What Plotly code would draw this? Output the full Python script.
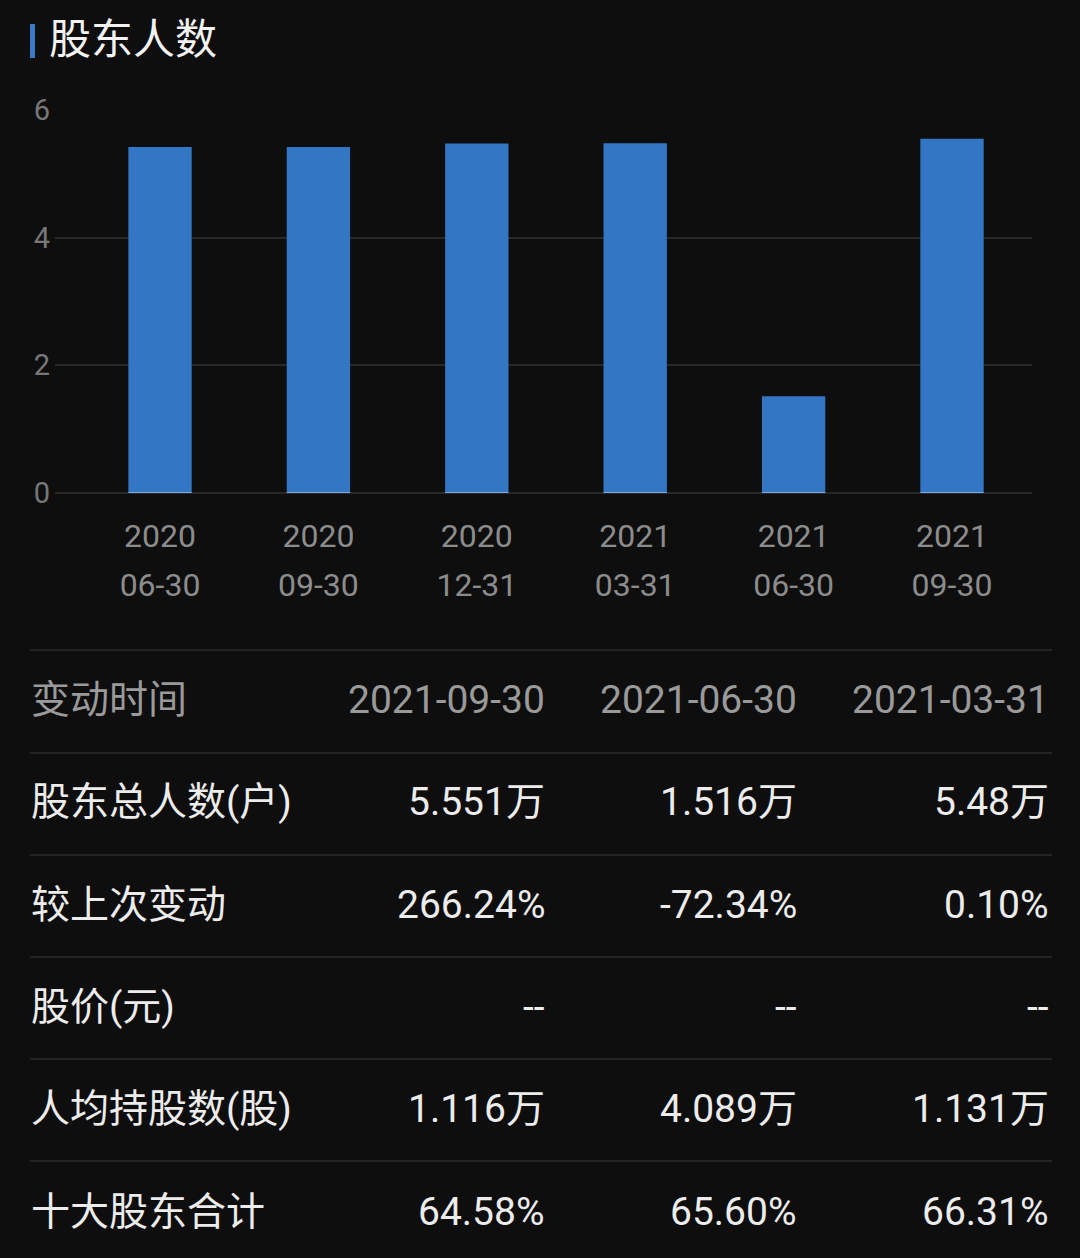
import plotly.graph_objects as go

W, H = 1080, 1258

# ---- data ----
report_years = ["2020", "2020", "2020", "2021", "2021", "2021"]
report_days = ["06-30", "09-30", "12-31", "03-31", "06-30", "09-30"]
holders_wan = [5.42, 5.42, 5.475, 5.48, 1.516, 5.551]
y_ticks = [0, 2, 4, 6]

table_header_label = "变动时间"
table_dates = ["2021-09-30", "2021-06-30", "2021-03-31"]
row_labels = ["股东总人数(户)", "较上次变动", "股价(元)", "人均持股数(股)", "十大股东合计"]
row_values = [
    ["5.551万", "1.516万", "5.48万"],
    ["266.24%", "-72.34%", "0.10%"],
    ["--", "--", "--"],
    ["1.116万", "4.089万", "1.131万"],
    ["64.58%", "65.60%", "66.31%"],
]

BG = "#0e0e0e"
BAR = "#3276c4"
GRID = "#282828"
FONT = "Roboto, 'Noto Sans CJK SC', sans-serif"

cats = [f"{y}-{d}" for y, d in zip(report_years, report_days)]

fig = go.Figure()
fig.add_trace(go.Bar(x=cats, y=holders_wan, marker=dict(color=BAR, line=dict(width=0)),
                     width=0.4, xaxis="x", yaxis="y", hoverinfo="skip"))
# invisible trace to register second x axis for the day labels
fig.add_trace(go.Bar(x=cats, y=[0] * len(cats), xaxis="x2", yaxis="y", showlegend=False,
                     hoverinfo="skip", marker=dict(color="rgba(0,0,0,0)")))

def px_x(p):
    return p / W

def px_y(p):
    return 1 - p / H

x_dom = [px_x(55), px_x(1032)]
y_dom = [px_y(493), px_y(110)]
x_range = [-0.663, 5.505]

fig.update_layout(
    width=W, height=H,
    margin=dict(l=0, r=0, t=0, b=0, pad=0, autoexpand=False),
    paper_bgcolor=BG, plot_bgcolor=BG,
    showlegend=False,
    bargap=0.6,
    font=dict(family=FONT, color="#8a8a8a"),
    xaxis=dict(domain=x_dom, range=x_range, type="category", automargin=False,
               tickmode="array", tickvals=cats, ticktext=report_years,
               showgrid=False, zeroline=False, showline=False,
               ticks="outside", ticklen=15, tickcolor="rgba(0,0,0,0)",
               tickfont=dict(size=32, color="#8c8c8c", family=FONT), anchor="y"),
    xaxis2=dict(domain=x_dom, range=x_range, type="category", overlaying="x", automargin=False,
                tickmode="array", tickvals=cats, ticktext=report_days,
                showgrid=False, zeroline=False, showline=False, side="bottom",
                ticks="outside", ticklen=64, tickcolor="rgba(0,0,0,0)",
                tickfont=dict(size=32, color="#8c8c8c", family=FONT), anchor="y"),
    yaxis=dict(domain=y_dom, range=[0, 6], tickmode="array", tickvals=y_ticks, automargin=False,
               showgrid=True, gridcolor=GRID, gridwidth=2,
               zeroline=True, zerolinecolor=GRID, zerolinewidth=2, showline=False,
               ticks="", ticklabelstandoff=4,
               tickfont=dict(size=29, color="#777777", family=FONT)),
)

shapes = []
annotations = []

# title with blue marker
shapes.append(dict(type="rect", xref="paper", yref="paper",
                   x0=px_x(30), x1=px_x(35), y0=px_y(58), y1=px_y(24),
                   fillcolor="#3a78c8", line=dict(width=0)))
annotations.append(dict(text="股东人数", xref="paper", yref="paper", x=px_x(47), y=px_y(40),
                        xanchor="left", yanchor="middle", showarrow=False,
                        font=dict(size=42, color="#f2f2f2", family=FONT)))

# table
line_ys = [650, 753, 855, 957, 1059, 1161]
text_ys = [700, 802, 905, 1007, 1109, 1212]
col_right = [547, 799, 1051]

for ly in line_ys:
    shapes.append(dict(type="line", xref="paper", yref="paper",
                       x0=px_x(30), x1=px_x(1052), y0=px_y(ly), y1=px_y(ly),
                       line=dict(color="#242424", width=2)))

all_labels = [table_header_label] + row_labels
all_values = [table_dates] + row_values
for i, (lab, vals) in enumerate(zip(all_labels, all_values)):
    color = "#9a9a9a" if i == 0 else "#ececec"
    annotations.append(dict(text=lab, xref="paper", yref="paper", x=px_x(29), y=px_y(text_ys[i]),
                            xanchor="left", yanchor="middle", showarrow=False,
                            font=dict(size=39, color=color, family=FONT)))
    for v, cx in zip(vals, col_right):
        annotations.append(dict(text=v, xref="paper", yref="paper", x=px_x(cx), y=px_y(text_ys[i]),
                                xanchor="right", yanchor="middle", showarrow=False,
                                font=dict(size=39, color=color, family=FONT)))

fig.update_layout(shapes=shapes, annotations=annotations)

fig.write_html("out.html", config={"displayModeBar": False})
